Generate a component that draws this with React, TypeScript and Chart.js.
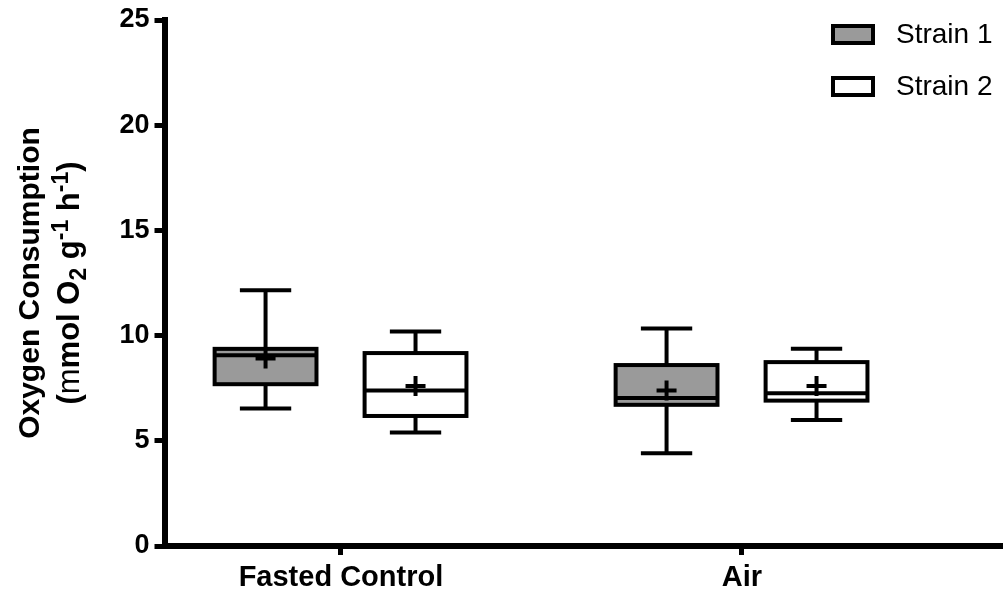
import React, { useEffect, useRef } from 'react';
import { Chart, registerables } from 'chart.js';

Chart.register(...registerables);

// ---- data ----
const categories = ['Fasted Control', 'Air'];
const seriesNames = ['Strain 1', 'Strain 2'];

const strain1Min = [6.53, 4.41];
const strain1Q1 = [7.69, 6.71];
const strain1Median = [9.07, 7.04];
const strain1Q3 = [9.37, 8.6];
const strain1Max = [12.15, 10.34];
const strain1Mean = [8.91, 7.39];

const strain2Min = [5.39, 5.99];
const strain2Q1 = [6.18, 6.91];
const strain2Median = [7.39, 7.26];
const strain2Q3 = [9.17, 8.74];
const strain2Max = [10.19, 9.37];
const strain2Mean = [7.6, 7.61];

const yTicks = [0, 5, 10, 15, 20, 25];

// ---- layout / style constants ----
const FONT = '"Liberation Sans", Arial, Helvetica, sans-serif';
const SERIES_OFFSET = [-0.188, 0.186];
const BOX_HALF = 0.127;
const CAP_HALF = 0.064;
const FILLS = ['#9a9a9a', '#ffffff'];
const X_MIN = -0.44;
const X_MAX = 1.651;

const series = [
  { name: seriesNames[0], min: strain1Min, q1: strain1Q1, med: strain1Median, q3: strain1Q3, max: strain1Max, mean: strain1Mean, fill: FILLS[0] },
  { name: seriesNames[1], min: strain2Min, q1: strain2Q1, med: strain2Median, q3: strain2Q3, max: strain2Max, mean: strain2Mean, fill: FILLS[1] },
];

const boxPlugin = {
  id: 'boxPlot',
  beforeDatasetsDraw(chart: any) {
    const { ctx } = chart;
    const x = chart.scales.x;
    const y = chart.scales.y;
    const py = (v: number) => y.getPixelForValue(v);
    const line = (x1: number, y1: number, x2: number, y2: number) => {
      ctx.beginPath();
      ctx.moveTo(x1, y1);
      ctx.lineTo(x2, y2);
      ctx.stroke();
    };
    series.forEach((s, si) => {
      categories.forEach((_, ci) => {
        const pos = ci + SERIES_OFFSET[si];
        const xc = x.getPixelForValue(pos);
        const hw = x.getPixelForValue(pos + BOX_HALF) - xc;
        const cw = x.getPixelForValue(pos + CAP_HALF) - xc;
        ctx.save();
        ctx.strokeStyle = '#000';
        ctx.lineWidth = 4;
        ctx.lineCap = 'butt';
        // whiskers
        line(xc, py(s.max[ci]), xc, py(s.q3[ci]));
        line(xc, py(s.q1[ci]), xc, py(s.min[ci]));
        line(xc - cw, py(s.max[ci]), xc + cw, py(s.max[ci]));
        line(xc - cw, py(s.min[ci]), xc + cw, py(s.min[ci]));
        // box
        const top = py(s.q3[ci]);
        const bot = py(s.q1[ci]);
        ctx.fillStyle = s.fill;
        ctx.fillRect(xc - hw, top, 2 * hw, bot - top);
        ctx.strokeRect(xc - hw, top, 2 * hw, bot - top);
        // median
        line(xc - hw, py(s.med[ci]), xc + hw, py(s.med[ci]));
        ctx.restore();
      });
    });
  },
  afterDraw(chart: any) {
    const { ctx, chartArea } = chart;
    // legend
    ctx.save();
    series.forEach((s, i) => {
      const cy = 34 + i * 52;
      ctx.fillStyle = s.fill;
      ctx.strokeStyle = '#000';
      ctx.lineWidth = 4;
      ctx.fillRect(833, cy - 8, 40, 17);
      ctx.strokeRect(833, cy - 8, 40, 17);
      ctx.fillStyle = '#000';
      ctx.font = `28px ${FONT}`;
      ctx.textAlign = 'left';
      ctx.textBaseline = 'middle';
      ctx.fillText(s.name, 896, cy + 1);
    });
    ctx.restore();

    // y-axis title (rich text)
    const cy = (chartArea.top + chartArea.bottom) / 2;
    type Seg = { t: string; size: number; weight: string; dy: number };
    const big = 30;
    const big2 = 31;
    const small = 23;
    const lines: { base: number; segs: Seg[] }[] = [
      { base: 39, segs: [{ t: 'Oxygen Consumption', size: big, weight: 'bold', dy: 0 }] },
      {
        base: 79,
        segs: [
          { t: '(', size: big2, weight: 'bold', dy: 0 },
          { t: 'm', size: big2, weight: 'normal', dy: 0 },
          { t: 'mol O', size: big2, weight: 'bold', dy: 0 },
          { t: '2', size: small, weight: 'bold', dy: 7 },
          { t: ' g', size: big2, weight: 'bold', dy: 0 },
          { t: '-1', size: small, weight: 'bold', dy: -11 },
          { t: ' h', size: big2, weight: 'bold', dy: 0 },
          { t: '-1', size: small, weight: 'bold', dy: -11 },
          { t: ')', size: big2, weight: 'bold', dy: 0 },
        ],
      },
    ];
    lines.forEach((ln) => {
      ctx.save();
      ctx.translate(ln.base, cy);
      ctx.rotate(-Math.PI / 2);
      ctx.fillStyle = '#000';
      ctx.textBaseline = 'alphabetic';
      ctx.textAlign = 'left';
      let total = 0;
      ln.segs.forEach((sg) => {
        ctx.font = `${sg.weight} ${sg.size}px ${FONT}`;
        total += ctx.measureText(sg.t).width;
      });
      let cx = -total / 2;
      ln.segs.forEach((sg) => {
        ctx.font = `${sg.weight} ${sg.size}px ${FONT}`;
        ctx.fillText(sg.t, cx, sg.dy);
        cx += ctx.measureText(sg.t).width;
      });
      ctx.restore();
    });
  },
};

export default function App() {
  const canvasRef = useRef<HTMLCanvasElement | null>(null);

  useEffect(() => {
    document.body.style.margin = '0';
    const canvas = canvasRef.current;
    if (!canvas) return;
    const chart = new Chart(canvas, {
      type: 'scatter',
      data: {
        datasets: series.map((s, si) => ({
          label: s.name,
          data: categories.map((_, ci) => ({ x: ci + SERIES_OFFSET[si], y: s.mean[ci] })),
          pointStyle: 'cross',
          pointRadius: 10,
          pointHoverRadius: 10,
          pointBorderWidth: 4,
          borderColor: '#000',
          backgroundColor: '#000',
          showLine: false,
        })),
      },
      options: {
        animation: false,
        responsive: false,
        events: [],
        layout: { autoPadding: false, padding: { top: 20, right: 0, bottom: 0, left: 0 } },
        plugins: {
          legend: { display: false },
          tooltip: { enabled: false },
          title: { display: false },
        },
        scales: {
          x: {
            type: 'linear',
            min: X_MIN,
            max: X_MAX,
            afterBuildTicks: (scale: any) => {
              scale.ticks = categories.map((_, i) => ({ value: i }));
            },
            afterFit: (scale: any) => {
              scale.height = 48;
              scale.paddingLeft = 0;
              scale.paddingRight = 0;
            },
            ticks: {
              autoSkip: false,
              maxRotation: 0,
              padding: 6,
              color: '#000',
              font: { family: FONT, size: 29, weight: 'bold' },
              callback: (v: any) => categories[Math.round(Number(v))] ?? '',
            },
            grid: {
              display: true,
              drawOnChartArea: false,
              drawTicks: true,
              tickLength: 9,
              tickWidth: 5,
              tickColor: '#000',
              color: '#000',
            },
            border: { display: true, color: '#000', width: 6 },
          },
          y: {
            type: 'linear',
            min: 0,
            max: 25,
            afterBuildTicks: (scale: any) => {
              scale.ticks = yTicks.map((v) => ({ value: v }));
            },
            afterFit: (scale: any) => {
              scale.width = 164.5;
              scale.paddingTop = 0;
              scale.paddingBottom = 0;
            },
            ticks: {
              padding: 5,
              color: '#000',
              font: { family: FONT, size: 27, weight: 'bold' },
            },
            grid: {
              display: true,
              drawOnChartArea: false,
              drawTicks: true,
              tickLength: 10,
              tickWidth: 5,
              tickColor: '#000',
              color: '#000',
            },
            border: { display: true, color: '#000', width: 6 },
          },
        },
      },
      plugins: [boxPlugin],
    } as any);
    return () => chart.destroy();
  }, []);

  return (
    <div style={{ position: 'absolute', left: 0, top: 0, width: 1003, height: 594, background: '#fff' }}>
      <canvas ref={canvasRef} width={1003} height={594} />
    </div>
  );
}
